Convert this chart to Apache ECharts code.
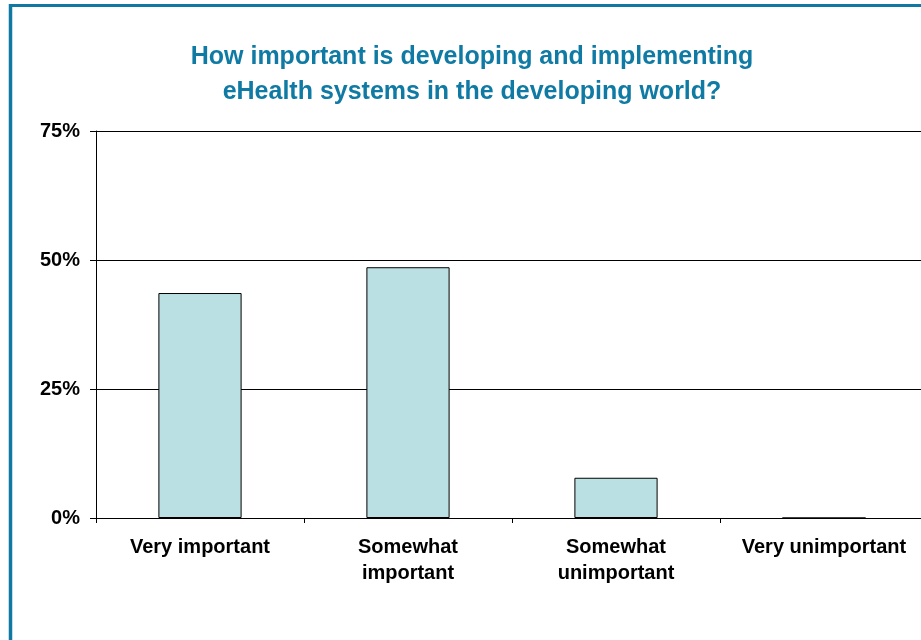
<!DOCTYPE html>
<html>
<head>
<meta charset="utf-8">
<script src="https://cdn.jsdelivr.net/npm/echarts@6/dist/echarts.min.js"></script>
<style>
html,body{margin:0;padding:0;background:#fff;overflow:hidden;}
#main{width:921px;height:640px;}
</style>
</head>
<body>
<div id="main"></div>
<script>
var categories = ['Very important', 'Somewhat\nimportant', 'Somewhat\nunimportant', 'Very unimportant'];
var values = [43.6, 48.6, 7.8, 0];
var yTicks = [0, 25, 50, 75];

var chart = echarts.init(document.getElementById('main'));
chart.setOption({
  backgroundColor: '#ffffff',
  animation: false,
  graphic: [
    { type: 'line', shape: { x1: 9, y1: 5.5, x2: 921, y2: 5.5 }, style: { stroke: '#0f78a3', lineWidth: 3 } },
    { type: 'line', shape: { x1: 10.5, y1: 4, x2: 10.5, y2: 640 }, style: { stroke: '#0f78a3', lineWidth: 3.5 } }
  ],
  title: {
    text: 'How important is developing and implementing\neHealth systems in the developing world?',
    left: 467,
    textAlign: 'center',
    top: 35,
    textStyle: {
      fontFamily: 'Arial, "Liberation Sans", sans-serif',
      fontWeight: 'bold',
      fontSize: 25,
      lineHeight: 35,
      color: '#0f7aa3'
    }
  },
  grid: { left: 96, width: 832, top: 131, bottom: 122, containLabel: false, outerBoundsMode: 'none' },
  xAxis: {
    type: 'category',
    data: categories,
    axisLine: { lineStyle: { color: '#000', width: 1 } },
    axisTick: { show: true, alignWithLabel: false, length: 5, lineStyle: { color: '#000' } },
    axisLabel: {
      interval: 0,
      color: '#000',
      fontFamily: 'Arial, "Liberation Sans", sans-serif',
      fontWeight: 'bold',
      fontSize: 20,
      lineHeight: 26,
      margin: 16
    }
  },
  yAxis: {
    type: 'value',
    min: 0,
    max: 75,
    interval: 25,
    axisLine: { show: true, lineStyle: { color: '#000', width: 1 } },
    axisTick: { show: true, length: 6, lineStyle: { color: '#000' } },
    splitLine: { show: true, lineStyle: { color: '#000', width: 1 } },
    axisLabel: {
      formatter: '{value}%',
      color: '#000',
      fontFamily: 'Arial, "Liberation Sans", sans-serif',
      fontWeight: 'bold',
      fontSize: 20,
      margin: 16
    }
  },
  series: [{
    type: 'bar',
    data: values,
    barWidth: '40%',
    itemStyle: { color: '#bbe0e3', borderColor: '#000', borderWidth: 1 }
  }]
});
</script>
</body>
</html>
